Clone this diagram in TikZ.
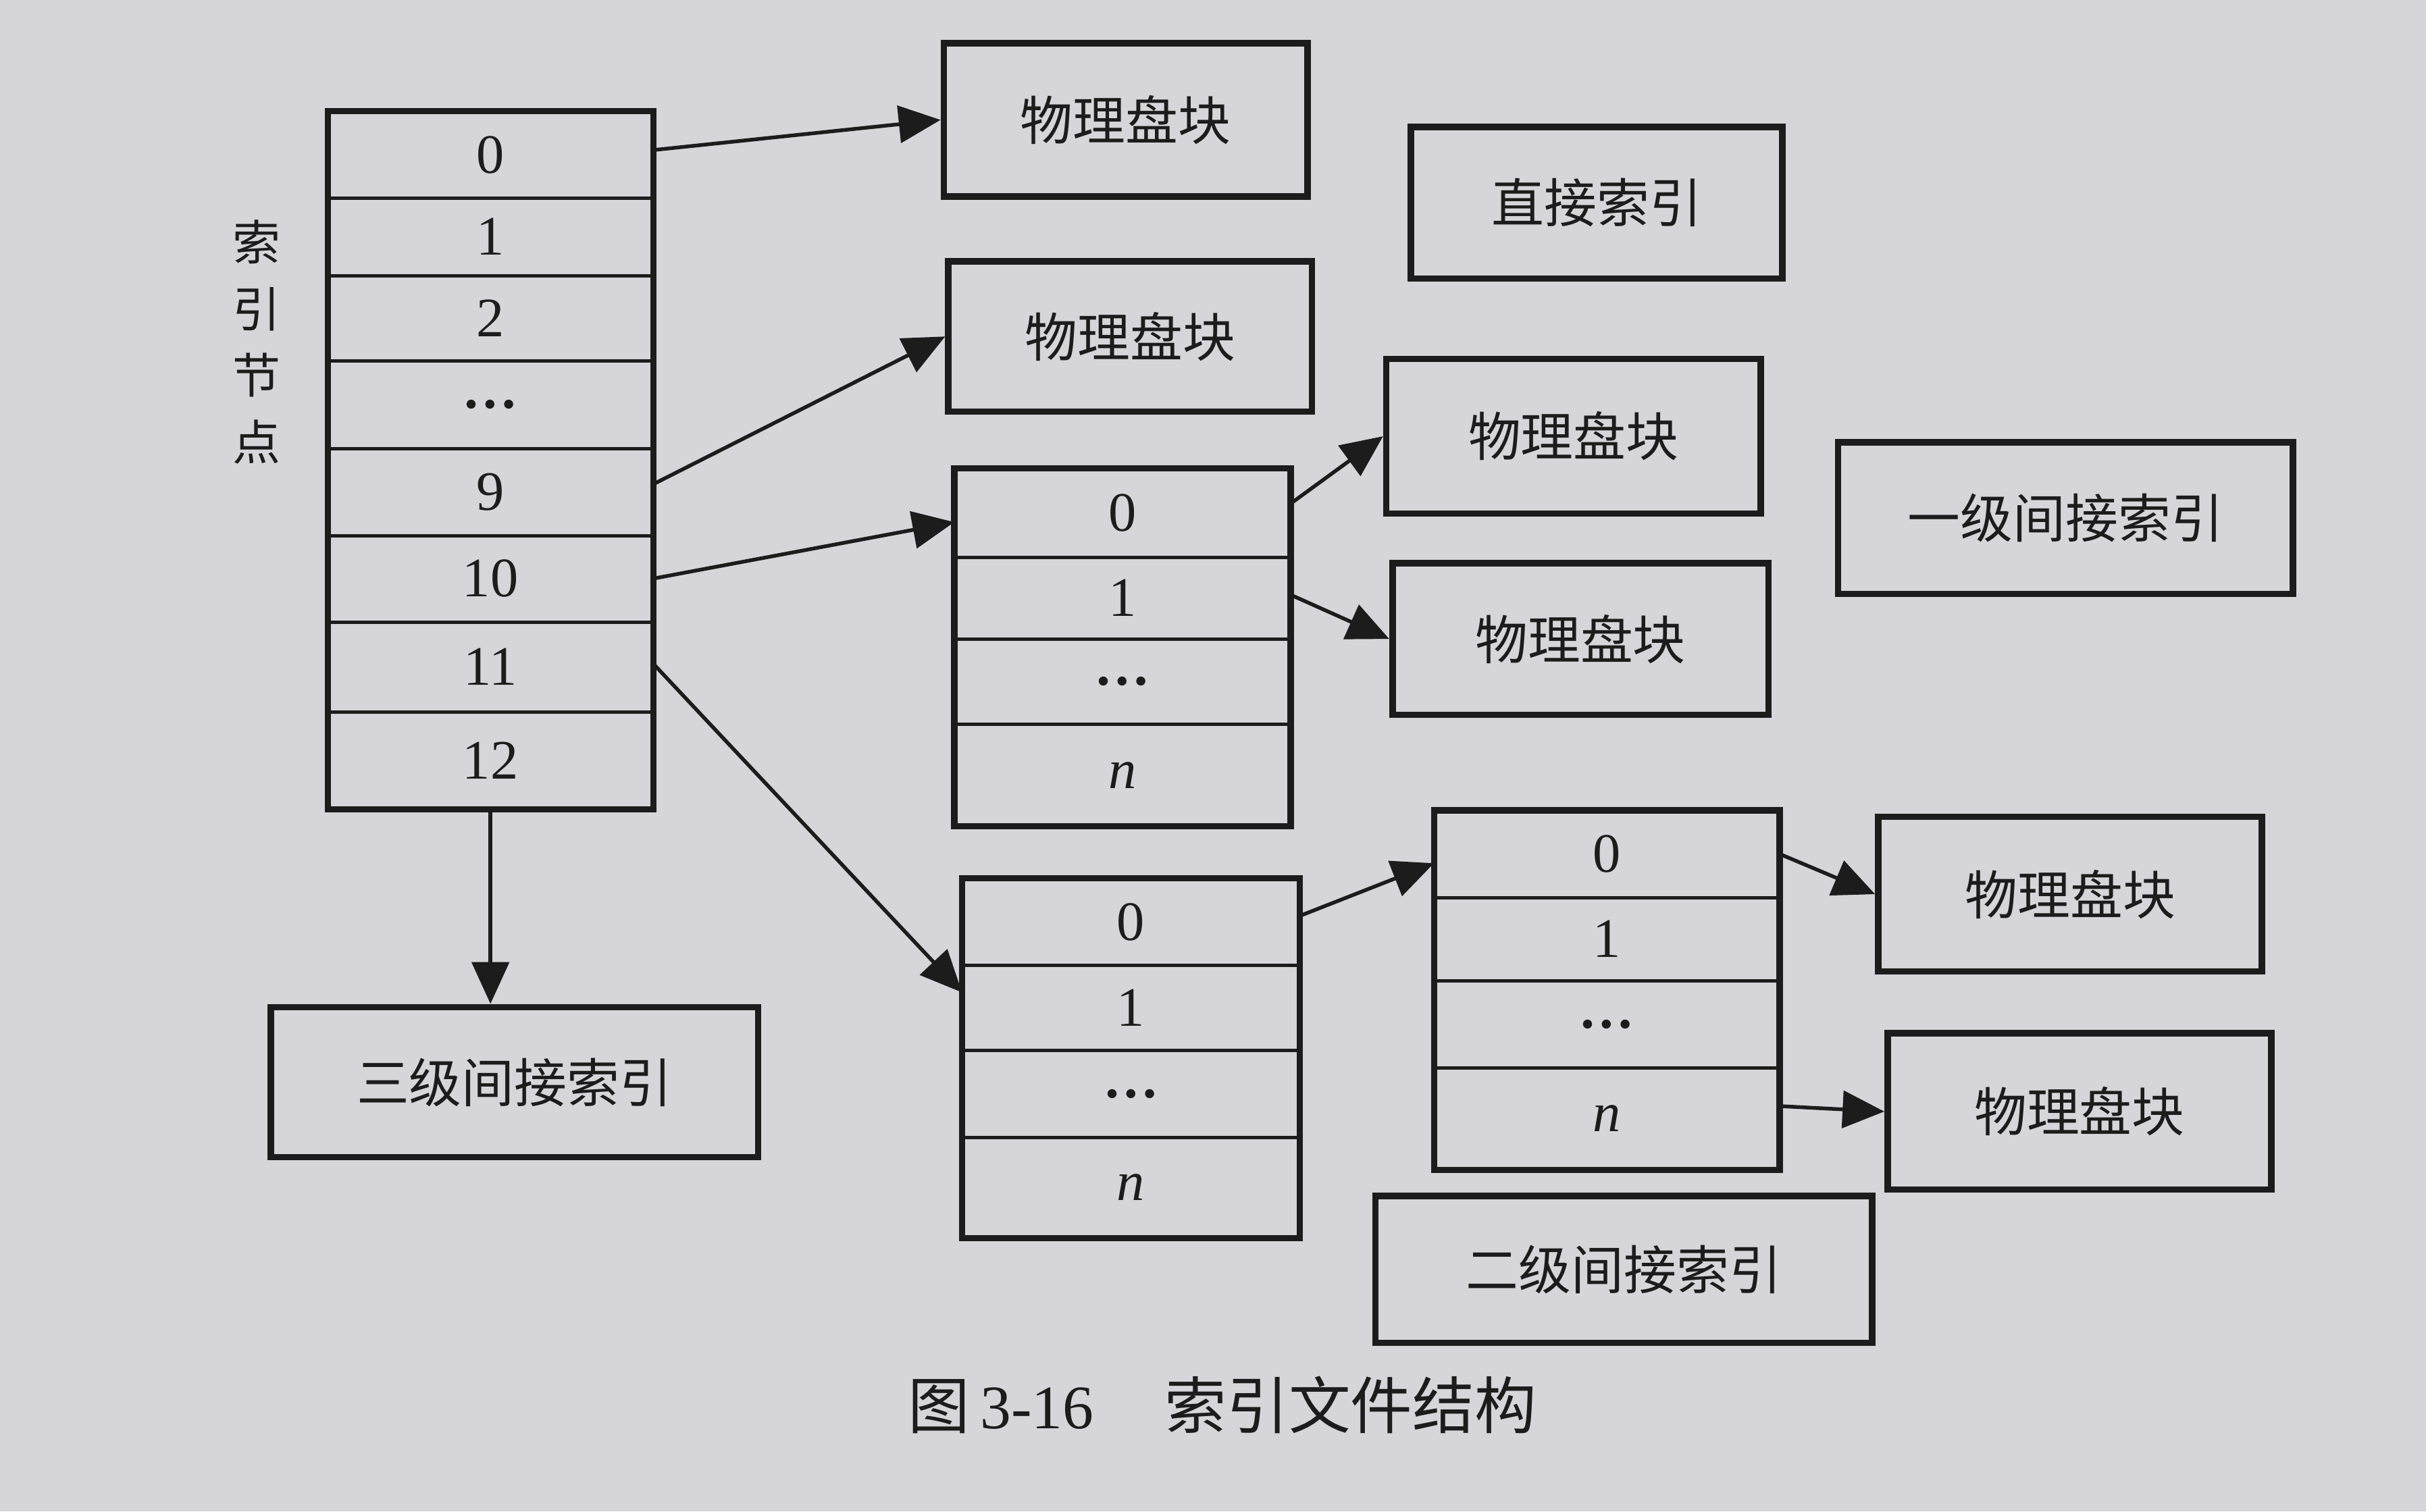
\documentclass[tikz,border=0pt]{standalone}
\usepackage{fontspec}
\setmainfont{Liberation Serif}
\newfontfamily\cjk{Noto Sans CJK SC}
\usetikzlibrary{arrows.meta}
\definecolor{paper}{RGB}{214,214,218}
\definecolor{ink}{RGB}{28,28,28}
\begin{document}
\begin{tikzpicture}[x=1pt,y=-1pt,
  box/.style={draw=ink, line width=4.2pt, inner sep=0pt, text=ink,
    font=\cjk\fontsize{34}{40}\selectfont},
  cell/.style={inner sep=0pt, minimum height=#1, text=ink,
    font=\fontsize{36}{40}\selectfont},
  outer/.style={draw=ink, line width=4pt},
  sepline/.style={draw=ink, line width=2.2pt},
  arr/.style={draw=ink, line width=2.4pt, -{Triangle[length=27pt,width=24pt]}}]
\useasboundingbox (0,0) rectangle (1568,977);
\fill[paper] (0,0) rectangle (1568,977);

% index node table
\begin{scope}[every node/.append style={minimum width=210pt}]
\node[cell=56pt] (i0)  at (317,100)   {0};
\node[cell=50pt] (i1)  at (317,153)   {1};
\node[cell=55pt] (i2)  at (317,205.5) {2};
\node[cell=57pt] (idd) at (317,261.5) {\bfseries …};
\node[cell=56pt] (i9)  at (317,318)   {9};
\node[cell=56pt] (i10) at (317,374)   {10};
\node[cell=58pt] (i11) at (317,431)   {11};
\node[cell=63pt] (i12) at (317,491.5) {12};
\end{scope}
\foreach \r in {i0,i1,i2,idd,i9,i10,i11}{\draw[sepline] (\r.south west) -- (\r.south east);}
\draw[outer] (i0.north west) rectangle (i12.south east);

\node[text=ink, align=center, font=\cjk\fontsize{31}{43}\selectfont] (lbl) at (166,221) {索\\引\\节\\点};

% table A (single indirect)
\begin{scope}[every node/.append style={minimum width=217pt}]
\node[cell=57pt] (a0) at (725.5,331.5) {0};
\node[cell=53pt] (a1) at (725.5,386.5) {1};
\node[cell=55pt] (ad) at (725.5,440.5) {\bfseries …};
\node[cell=66pt] (an) at (725.5,501)   {\itshape n};
\end{scope}
\foreach \r in {a0,a1,ad}{\draw[sepline] (\r.south west) -- (\r.south east);}
\draw[outer] (a0.north west) rectangle (an.south east);

% table B (double indirect, first level)
\begin{scope}[every node/.append style={minimum width=218pt}]
\node[cell=56pt] (b0) at (731,596)   {0};
\node[cell=55pt] (b1) at (731,651.5) {1};
\node[cell=56pt] (bd) at (731,707)   {\bfseries …};
\node[cell=65pt] (bn) at (731,767.5) {\itshape n};
\end{scope}
\foreach \r in {b0,b1,bd}{\draw[sepline] (\r.south west) -- (\r.south east);}
\draw[outer] (b0.north west) rectangle (bn.south east);

% table C (double indirect, second level)
\begin{scope}[every node/.append style={minimum width=223pt}]
\node[cell=56pt] (c0) at (1038.5,552) {0};
\node[cell=54pt] (c1) at (1038.5,607) {1};
\node[cell=56pt] (cd) at (1038.5,662) {\bfseries …};
\node[cell=66pt] (cn) at (1038.5,723) {\itshape n};
\end{scope}
\foreach \r in {c0,c1,cd}{\draw[sepline] (\r.south west) -- (\r.south east);}
\draw[outer] (c0.north west) rectangle (cn.south east);

% boxes
\node[box, minimum width=235pt, minimum height=99pt]  (p1) at (727.5,77.5) {物理盘块};
\node[box, minimum width=240pt, minimum height=98pt]  (direct) at (1032,131) {直接索引};
\node[box, minimum width=235pt, minimum height=97pt]  (p2) at (730.5,217.5) {物理盘块};
\node[box, minimum width=242pt, minimum height=100pt] (p3) at (1017,282) {物理盘块};
\node[box, minimum width=243pt, minimum height=98pt]  (p4) at (1021.5,413) {物理盘块};
\node[box, minimum width=294pt, minimum height=98pt]  (first) at (1335,335) {一级间接索引};
\node[box, minimum width=248pt, minimum height=100pt] (p5) at (1338,578) {物理盘块};
\node[box, minimum width=248pt, minimum height=101pt] (p6) at (1344,718.5) {物理盘块};
\node[box, minimum width=321pt, minimum height=95pt]  (second) at (1049.5,820.5) {二级间接索引};
\node[box, minimum width=315pt, minimum height=97pt]  (third) at (332.5,699.5) {三级间接索引};

% caption
\node[text=ink, inner sep=0pt, font=\fontsize{40}{44}\selectfont] (cap) at (790,908)
  {{\cjk 图}\,3-16\hspace{1.15em}{\cjk 索引文件结构}};

% connectors
\draw[arr] ([yshift=3pt]i0.east) -- (p1.west);
\draw[arr] ([yshift=5pt]i9.east) -- (p2.west);
\draw[arr] (i10.east) -- ([yshift=-6pt]a0.west);
\draw[arr] ([yshift=2pt]i11.east) -- ([yshift=10pt]b1.west);
\draw[arr] (i12.south) -- (i12.south |- third.north);
\draw[arr] ([yshift=6pt]a0.east) -- (p3.west);
\draw[arr] ([yshift=2pt]a1.east) -- (p4.west);
\draw[arr] ([yshift=4pt]b0.east) -- ([yshift=-6pt]c0.west);
\draw[arr] (c0.east) -- (p5.west);
\draw[arr] ([yshift=8pt]cn.east) -- (p6.west);
\end{tikzpicture}
\end{document}
